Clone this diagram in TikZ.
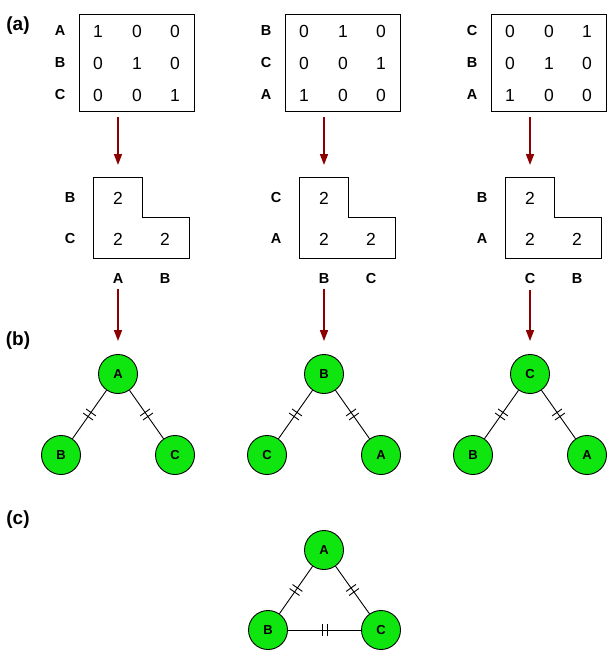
\documentclass[tikz,border=0pt]{standalone}
\usepackage{fontspec}
\setmainfont{Liberation Sans}
\usetikzlibrary{arrows.meta,decorations.markings}
\definecolor{nodegreen}{RGB}{15,230,15}
\definecolor{arrowred}{RGB}{140,0,0}
\tikzset{
    lbl/.style={font=\bfseries\fontsize{14.5}{14.5}\selectfont, inner sep=1pt},
    val/.style={font=\fontsize{17.5}{17.5}\selectfont, inner sep=1pt},
    part/.style={font=\bfseries\fontsize{19}{19}\selectfont, inner sep=1pt},
    vertex/.style={circle, draw=black, fill=nodegreen, minimum size=39pt,
    inner sep=0pt, font=\bfseries\fontsize{13}{13}\selectfont},
    flow/.style={draw=arrowred, line width=1.6pt, -{Triangle[length=11pt,width=8pt]}},
    tie/.style={draw, postaction={decorate},
        decoration={markings, mark=at position 0.5 with {
            \draw (-2.5pt,-6pt) -- (-2.5pt,6pt) (2.5pt,-6pt) -- (2.5pt,6pt);
        }}
    }
}

\begin{document}
\begin{tikzpicture}[x=1pt, y=-1pt, line width=0.9pt]
    \useasboundingbox (0,0) rectangle (614,661);
    % part labels
    \node[part] (pa) at (18,26) {(a)};
    \node[part] (pb) at (18,341) {(b)};
    \node[part] (pc) at (18,520) {(c)};
    % three orderings
    \foreach \i/\ra/\rb/\rc/\pa/\pb/\pc in {0/A/B/C/1/2/3, 1/B/C/A/2/3/1, 2/C/B/A/3/2/1} {
        \begin{scope}[xshift={206pt*\i}]
            % adjacency matrix
            \node[draw, minimum width=115pt, minimum height=97pt, inner sep=0pt] (mat\i) at (136.5,62.5) {};
            \node[lbl] (ra\i) at (60,31) {\ra};
            \node[lbl] (rb\i) at (60,63) {\rb};
            \node[lbl] (rc\i) at (60,95) {\rc};
            \foreach \c/\x in {1/98, 2/137, 3/175} {
                \node[val] (va\i\c) at (\x,31) {\ifnum\c=\pa\relax 1\else 0\fi};
                \node[val] (vb\i\c) at (\x,63) {\ifnum\c=\pb\relax 1\else 0\fi};
                \node[val] (vc\i\c) at (\x,95) {\ifnum\c=\pc\relax 1\else 0\fi};
            }
            \coordinate (mout\i) at (118,117);
            \coordinate (lin\i) at (118,165);
            \draw[flow] (mout\i) -- (lin\i);
            % lower triangle
            \draw (93,177) -- (142,177) -- (142,217) -- (189,217) -- (189,258) -- (93,258) -- cycle;
            \node[lbl] (lrb\i) at (70,198) {\rb};
            \node[lbl] (lrc\i) at (70,239) {\rc};
            \node[val] (lv1\i) at (118,198) {2};
            \node[val] (lv2\i) at (118,239) {2};
            \node[val] (lv3\i) at (165,239) {2};
            \node[lbl] (lca\i) at (118,279) {\ra};
            \node[lbl] (lcb\i) at (165,279) {\rb};
            % tree
            \node[vertex] (root\i) at (118,374) {\ra};
            \node[vertex] (left\i) at (61,455) {\rb};
            \node[vertex] (right\i) at (175,455) {\rc};
            \draw[flow] ([yshift=-4pt]lca\i.south) -- ([yshift=13pt]root\i.north);
            \draw[tie] (root\i) -- (left\i);
            \draw[tie] (root\i) -- (right\i);
        \end{scope}
    }
    % triangle
    \node[vertex] (ta) at (324,550) {A};
    \node[vertex] (tb) at (268,630) {B};
    \node[vertex] (tc) at (381,630) {C};
    \draw[tie] (ta) -- (tb);
    \draw[tie] (ta) -- (tc);
    \draw[tie] (tb) -- (tc);
\end{tikzpicture}
\end{document}
